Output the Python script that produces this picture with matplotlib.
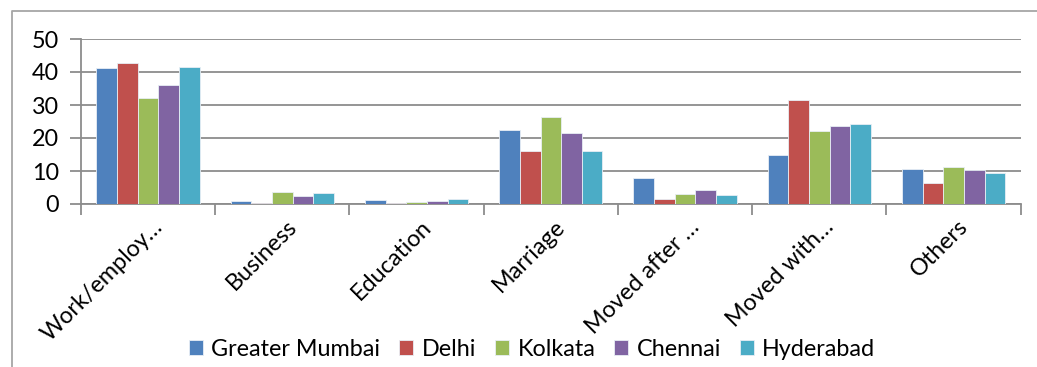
import numpy as np
import matplotlib
matplotlib.use("Agg")
import matplotlib.pyplot as plt
from matplotlib.lines import Line2D
from matplotlib.transforms import ScaledTranslation

plt.rcParams["font.family"] = ["Lato", "DejaVu Sans"]

categories = ["Work/employ…", "Business", "Education", "Marriage",
              "Moved after …", "Moved with…", "Others"]
cities = ["Greater Mumbai", "Delhi", "Kolkata", "Chennai", "Hyderabad"]
colors = ["#4F81BD", "#C0504D", "#9BBB59", "#8064A2", "#4BACC6"]

greater_mumbai = [41.1, 0.8, 1.2, 22.4, 8.0, 14.8, 10.5]
delhi = [42.7, 0.3, 0.3, 16.2, 1.4, 31.4, 6.4]
kolkata = [32.0, 3.5, 0.6, 26.5, 2.9, 22.1, 11.2]
chennai = [36.2, 2.4, 0.8, 21.4, 4.2, 23.7, 10.2]
hyderabad = [41.5, 3.4, 1.5, 16.2, 2.6, 24.2, 9.5]
series = [greater_mumbai, delhi, kolkata, chennai, hyderabad]

FS = 16.8

fig = plt.figure(figsize=(10.37, 3.67), dpi=100)
ax = fig.add_axes([81 / 1037, 1 - 204 / 367, (1020.7 - 81) / 1037, (204 - 39) / 367])

# outer chart border (top and left visible)
fig.add_artist(Line2D([12 / 1037, 12 / 1037, 1.01], [-0.01, 1 - 11 / 367, 1 - 11 / 367],
                      transform=fig.transFigure, color="#a6a6a6", lw=1.3))

x = np.arange(len(categories))
w = 1 / 6.5
for i, (vals, c, name) in enumerate(zip(series, colors, cities)):
    ax.bar(x - 2 * w + i * w, vals, width=w, color=c, edgecolor="#e8eef5",
           linewidth=0.6, label=name, zorder=3)

ax.set_xlim(-0.5, len(categories) - 0.5)
ax.set_ylim(0, 50)
ax.set_yticks(np.arange(0, 51, 10))
ax.yaxis.grid(True, color="#8c8c8c", lw=1.3, zorder=0)
ax.set_axisbelow(True)

for s in ["top", "right"]:
    ax.spines[s].set_visible(False)
for s in ["left", "bottom"]:
    ax.spines[s].set_color("#8c8c8c")
    ax.spines[s].set_linewidth(1.3)

# category boundary ticks
ax.set_xticks(np.arange(-0.5, len(categories), 1.0))
ax.set_xticklabels([])
ax.tick_params(axis="x", length=8, width=1.3, color="#8c8c8c")
ax.tick_params(axis="y", length=8, width=1.3, color="#8c8c8c", labelsize=FS, pad=8)

off = ScaledTranslation(8 / 72, -14 / 72, fig.dpi_scale_trans)
for xi, lab in zip(x, categories):
    ax.text(xi, 0, lab, rotation=45, ha="right", va="center", rotation_mode="anchor",
            fontsize=FS, transform=ax.get_xaxis_transform() + off)

ax.legend(loc="center", bbox_to_anchor=(532 / 1037, 1 - 349 / 367),
          bbox_transform=fig.transFigure, ncol=5, frameon=False, fontsize=FS,
          handlelength=0.62, handleheight=0.62, handletextpad=0.35, columnspacing=0.8)

fig.savefig("out.png", dpi=100)
